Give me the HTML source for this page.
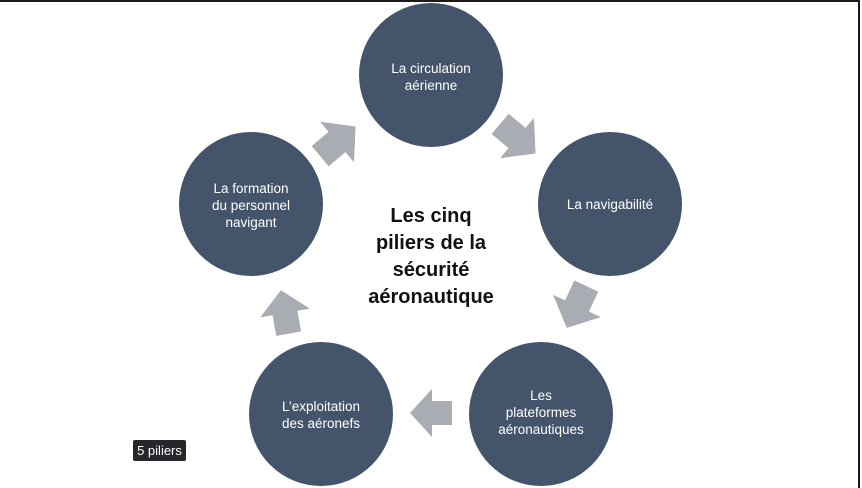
<!DOCTYPE html>
<html><head><meta charset="utf-8"><style>
html,body{margin:0;padding:0;background:#fff}
body{width:862px;height:488px;overflow:hidden;position:relative;font-family:"Liberation Sans","DejaVu Sans",sans-serif}
.f{position:absolute;left:0;top:0;width:860px;height:488px;border-top:2px solid #1a1a1a;border-right:2px solid #1a1a1a;box-sizing:border-box}
.c{position:absolute;width:144px;height:144px;border-radius:50%;background:#44546a;color:#fff;font-size:13.5px;line-height:17px;text-align:center;display:flex;align-items:center;justify-content:center}
.t{position:absolute;left:331px;top:203px;width:200px;text-align:center;font-weight:bold;font-size:20px;line-height:27px;color:#111}
.lab{position:absolute;left:133px;top:440px;width:53px;height:21px;background:#26262c;color:#fff;font-size:13px;line-height:21px;text-align:center;border-radius:2px}
</style></head><body>
<div class="f"></div>
<svg width="862" height="488" style="position:absolute;left:0;top:0">
<defs><polygon id="a" points="-20,-12 0,-12 0,-24 22,0 0,24 0,12 -20,12" fill="#a9acb3"/></defs>
<use href="#a" transform="translate(517,138) rotate(40) scale(1.1)"/>
<use href="#a" transform="translate(577,306) rotate(115) scale(1.1)"/>
<use href="#a" transform="translate(432,413) rotate(180)"/>
<use href="#a" transform="translate(285,313) rotate(-100) scale(1.05)"/>
<use href="#a" transform="translate(337,142) rotate(-40) scale(1.1)"/>
</svg>
<div class="c" style="left:359px;top:3px;"><div style="margin-top:3px">La circulation<br>aérienne</div></div>
<div class="c" style="left:538px;top:132px;">La navigabilité</div>
<div class="c" style="left:469px;top:342px;"><div style="margin-top:-4px">Les<br>plateformes<br>aéronautiques</div></div>
<div class="c" style="left:249px;top:342px;"><div style="margin-top:2px">L’exploitation<br>des aéronefs</div></div>
<div class="c" style="left:179px;top:132px;"><div style="margin-top:2px">La formation<br>du personnel<br>navigant</div></div>
<div class="t">Les cinq<br>piliers de la<br>sécurité<br>aéronautique</div>
<div class="lab">5 piliers</div>
</body></html>
